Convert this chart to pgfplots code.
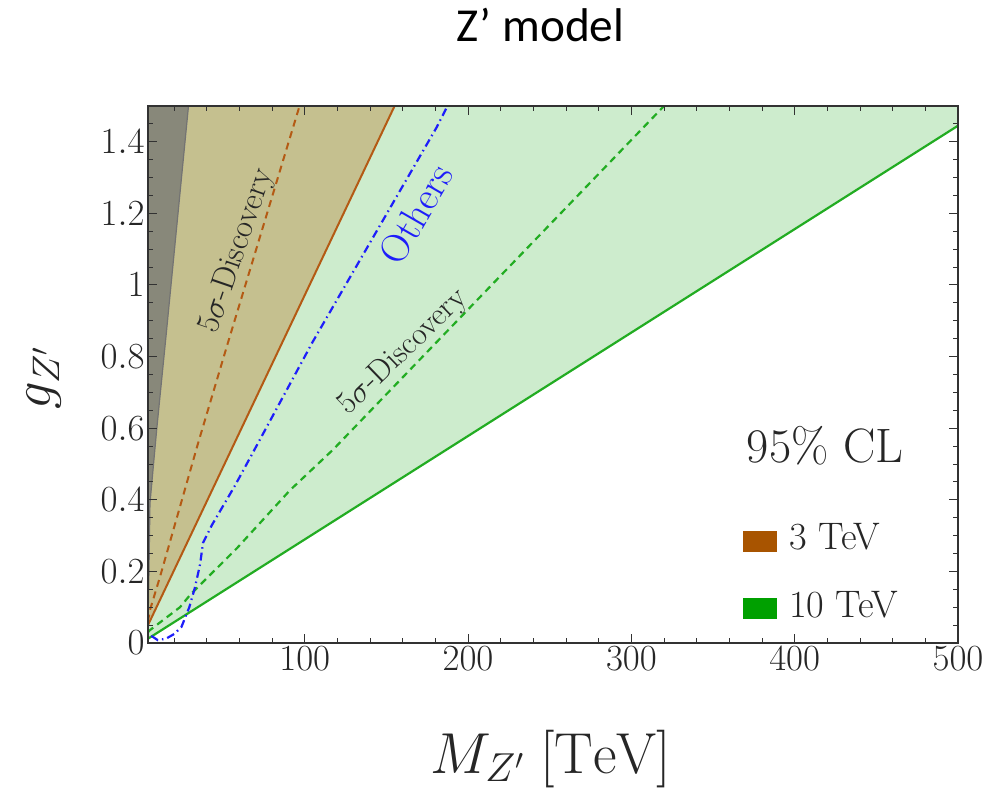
\documentclass[border=0pt]{standalone}
\usepackage{fix-cm}
\usepackage{pgfplots}
\pgfplotsset{compat=1.18}
\usepackage{fontspec}
\newfontfamily\titlefont{Carlito}
\definecolor{greenfill}{RGB}{205,236,205}
\definecolor{brownfill}{RGB}{197,192,143}
\definecolor{grayfill}{RGB}{136,136,122}
\definecolor{brownline}{RGB}{180,90,20}
\definecolor{greenline}{RGB}{34,172,34}
\definecolor{bluel}{RGB}{30,30,250}
\definecolor{brownkey}{RGB}{168,84,0}
\definecolor{greenkey}{RGB}{0,160,0}
\definecolor{framec}{RGB}{50,50,50}
\begin{document}
\begin{tikzpicture}
\useasboundingbox (-148bp,-148bp) rectangle (853bp,643bp);
\begin{axis}[
  at={(0,0)}, anchor=south west,
  scale only axis, width=810bp, height=537bp,
  xmin=4, xmax=500, ymin=0, ymax=1.5,
  axis on top,
  clip mode=individual,
  xtick={100,200,300,400,500},
  minor xtick={20,40,60,80,120,140,160,180,220,240,260,280,320,340,360,380,420,440,460,480},
  ytick={0,0.2,0.4,0.6,0.8,1,1.2,1.4},
  minor ytick={0.05,0.1,0.15,0.25,0.3,0.35,0.45,0.5,0.55,0.65,0.7,0.75,0.85,0.9,0.95,1.05,1.1,1.15,1.25,1.3,1.35,1.45},
  tick align=inside,
  major tick length=9bp, minor tick length=5bp,
  every tick/.style={framec, line width=1bp},
  axis line style={framec, line width=1.3bp},
  tick label style={font=\fontsize{37}{37}\selectfont, text=black!85},
  yticklabel style={/pgf/number format/fixed},
]
% fills
\addplot[fill=greenfill, draw=none] coordinates {(4,0.012) (500,1.445) (500,1.5) (4,1.5)} -- cycle;
\addplot[fill=brownfill, draw=none] coordinates {(4,0.05) (155,1.5) (4,1.5)} -- cycle;
\addplot[fill=grayfill, draw=black!55, line width=1.2bp] coordinates {(4,0.05) (4.6,0.2) (5.2,0.39) (9.3,0.595) (15.4,0.874) (28.8,1.5) (4,1.5)} -- cycle;
% lines
\addplot[greenline, line width=2.2bp] coordinates {(4,0.012) (500,1.445)};
\addplot[greenline, line width=2.2bp, dash pattern=on 7bp off 5bp] coordinates {(4,0.03) (5.2,0.036) (23.6,0.10) (29.7,0.134) (42,0.19) (58.5,0.265) (91,0.427) (117.3,0.54) (320,1.5)};
\addplot[brownline, line width=2bp] coordinates {(4,0.05) (155,1.5)};
\addplot[brownline, line width=2bp, dash pattern=on 7bp off 5bp] coordinates {(4,0.06) (5.2,0.092) (11.3,0.184) (34.6,0.557) (52.7,0.835) (96.8,1.5)};
\addplot[bluel, line width=2.2bp, dash pattern=on 8bp off 4bp on 1.5bp off 4bp] coordinates {(6,0.02) (10,0.008) (15,0.012) (20,0.025) (24.5,0.045) (29.3,0.10) (32.8,0.156) (35.9,0.22) (37.7,0.28) (43.2,0.33) (57.3,0.44) (69.2,0.54) (104.7,0.84) (180.7,1.44) (187.4,1.5)};
% annotations
\node[rotate=71, font=\fontsize{33}{33}\selectfont, text=black!85] at (axis cs:58.5,1.094) {5$\sigma$-Discovery};
\node[rotate=60, font=\fontsize{40}{40}\selectfont, text=bluel] at (axis cs:168.1,1.198) {Others};
\node[rotate=44, font=\fontsize{32}{32}\selectfont, text=black!85] at (axis cs:160.2,0.813) {5$\sigma$-Discovery};
\node[anchor=base, font=\fontsize{48.5}{48.5}\selectfont, text=black!85] at (axis cs:418.6,0.503) {95\% CL};
\node[fill=brownkey, minimum width=34bp, minimum height=20.5bp, inner sep=0pt] at (axis cs:378.9,0.284) {};
\node[fill=greenkey, minimum width=34bp, minimum height=20.5bp, inner sep=0pt] at (axis cs:378.9,0.0964) {};
\node[anchor=base west, inner sep=0pt, font=\fontsize{38.5}{38.5}\selectfont, text=black!85] at (axis cs:396.5,0.26) {3 TeV};
\node[anchor=base west, inner sep=0pt, font=\fontsize{38.5}{38.5}\selectfont, text=black!85] at (axis cs:396.5,0.071) {10 TeV};
% labels and title
\node[anchor=base, font=\titlefont\fontsize{47.5}{47.5}\selectfont] at (rel axis cs:0.4846,1.1197) {Z’ model};
\node[anchor=base, font=\fontsize{58}{58}\selectfont, text=black!85] at (rel axis cs:0.4975,-0.2421) {$M_{Z'}\;[\mathrm{TeV}]$};
\node[rotate=90, font=\fontsize{55}{55}\selectfont, text=black!85] at (rel axis cs:-0.128,0.4935) {$g_{Z'}$};
\end{axis}
\end{tikzpicture}
\end{document}
